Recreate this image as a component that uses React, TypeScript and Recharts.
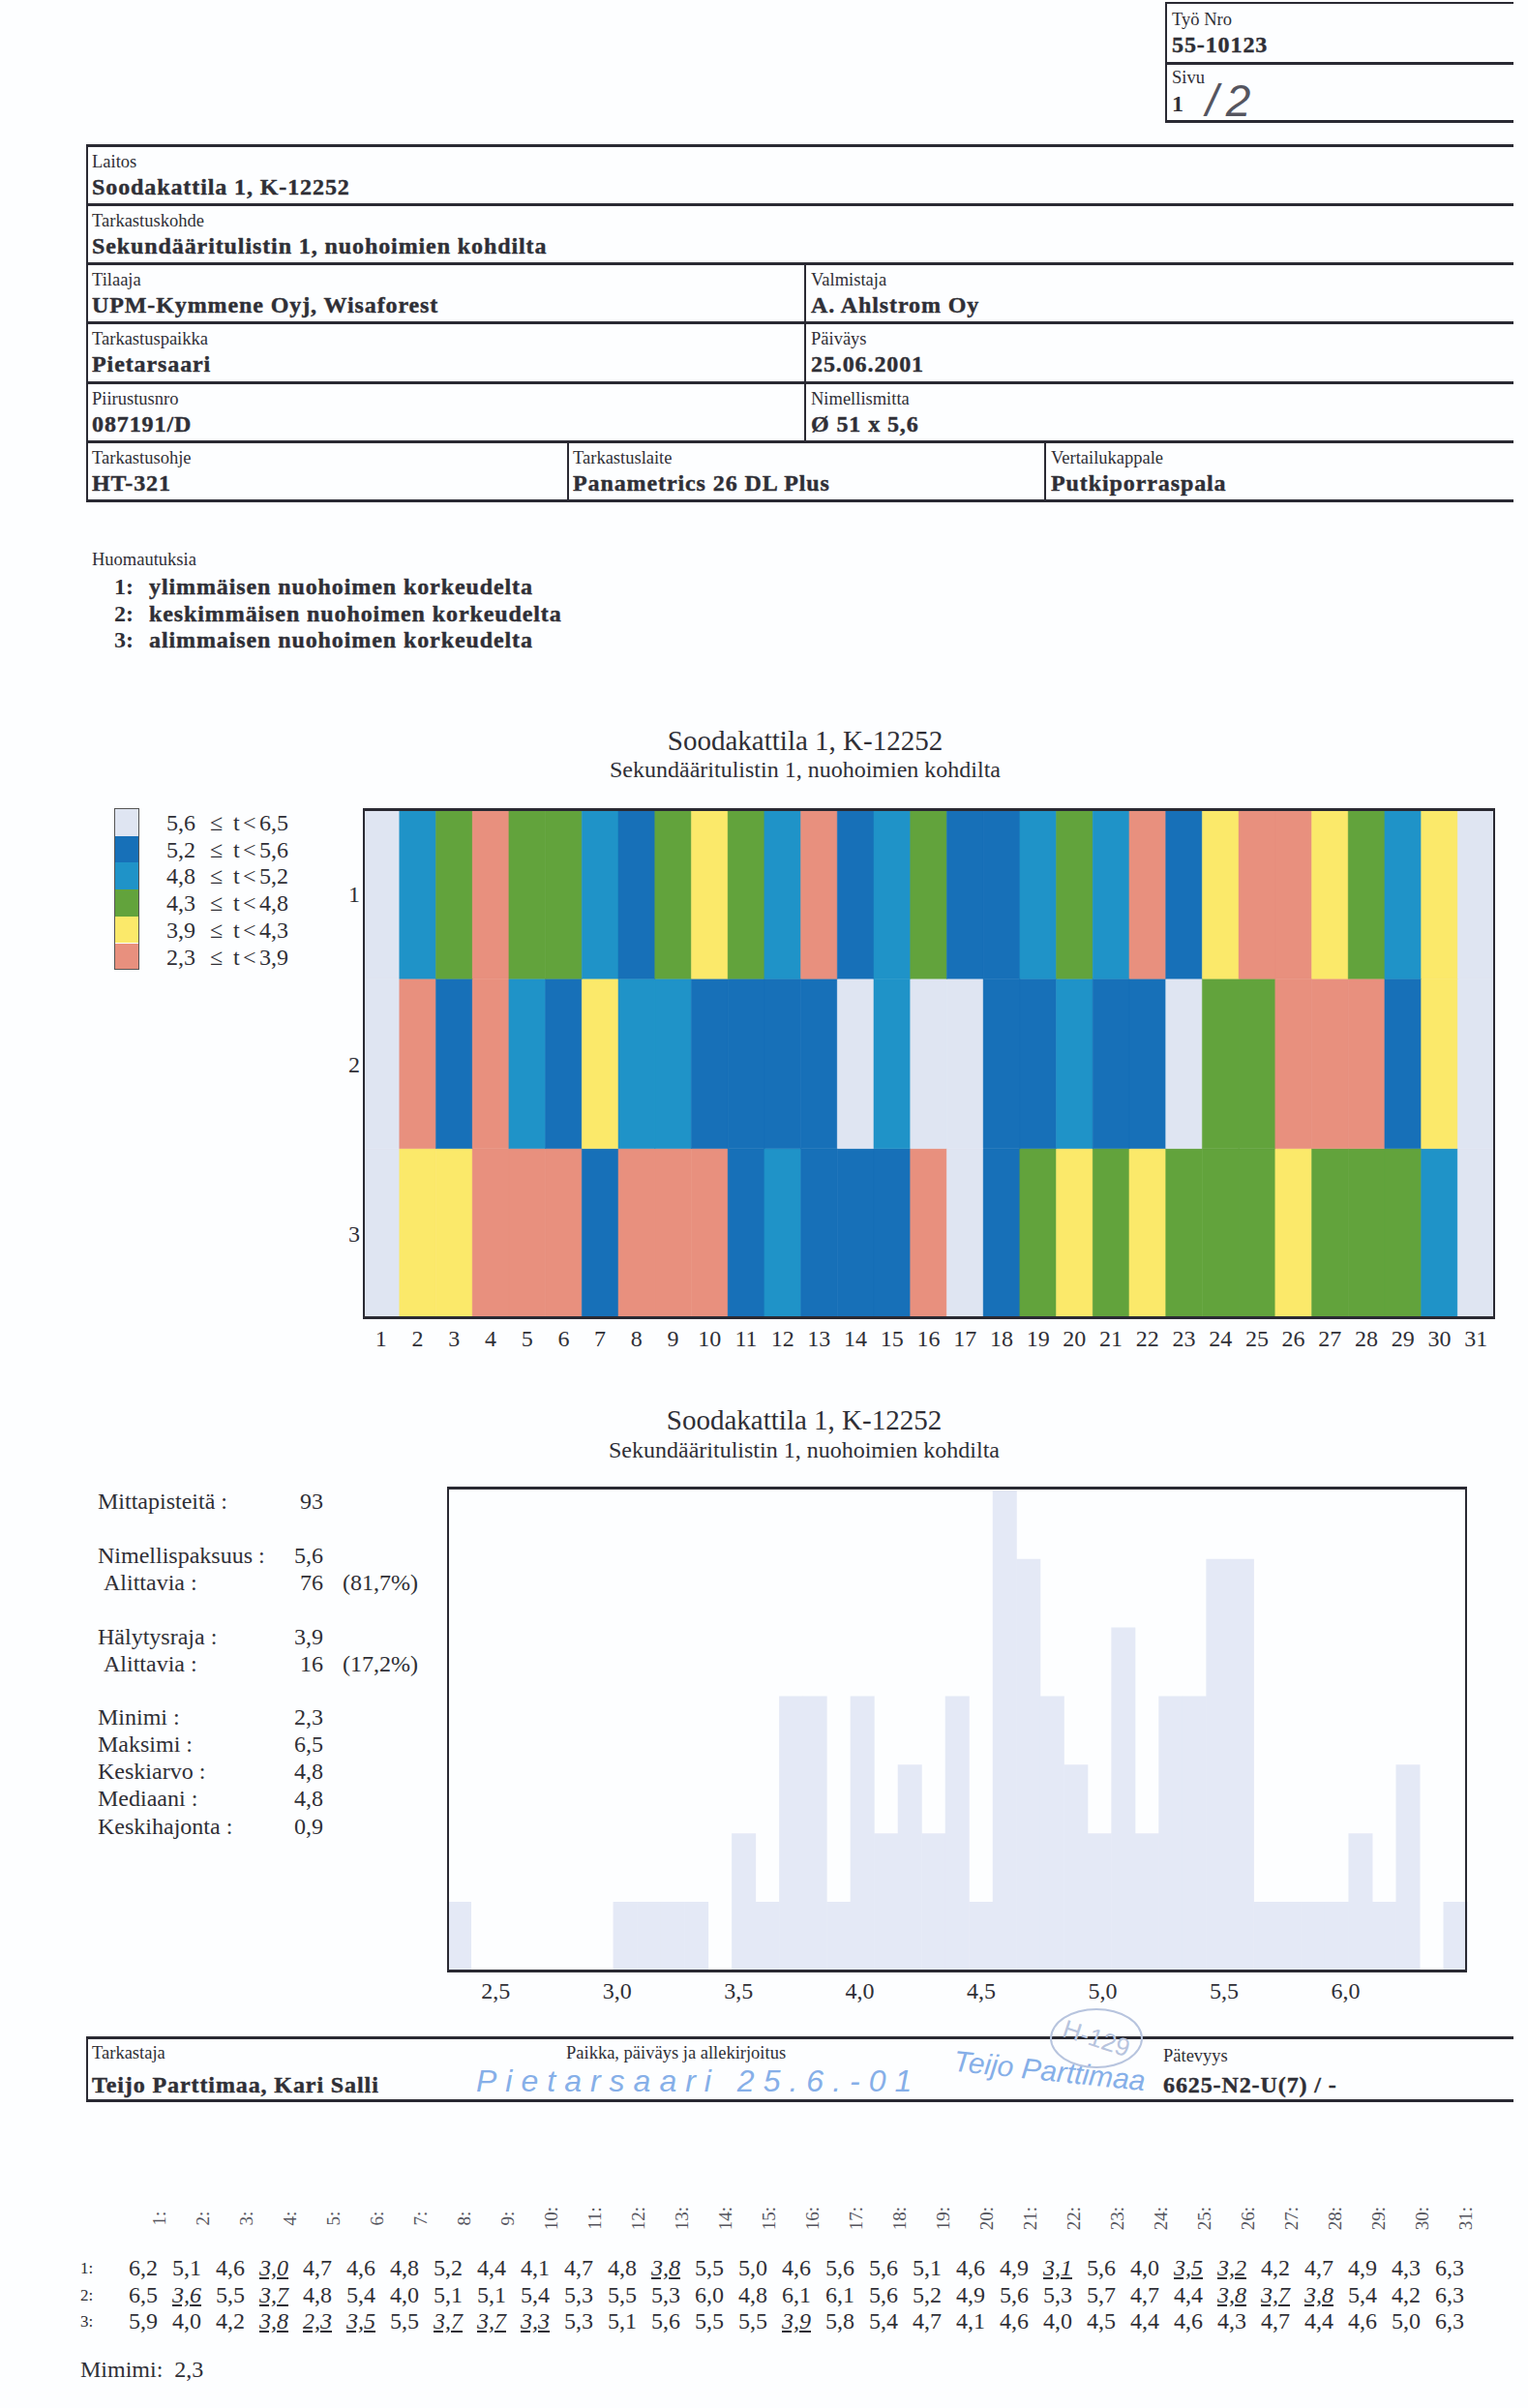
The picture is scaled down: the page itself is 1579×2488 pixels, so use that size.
import React from "react";
import { Bar, BarChart, Cell, LineChart, XAxis, YAxis } from "recharts";

const columns = Array.from({ length: 31 }, (_, i) => String(i + 1));
const row1 = [6.2, 5.1, 4.6, 3.0, 4.7, 4.6, 4.8, 5.2, 4.4, 4.1, 4.7, 4.8, 3.8, 5.5, 5.0, 4.6, 5.6, 5.6, 5.1, 4.6, 4.9, 3.1, 5.6, 4.0, 3.5, 3.2, 4.2, 4.7, 4.9, 4.3, 6.3];
const row2 = [6.5, 3.6, 5.5, 3.7, 4.8, 5.4, 4.0, 5.1, 5.1, 5.4, 5.3, 5.5, 5.3, 6.0, 4.8, 6.1, 6.1, 5.6, 5.2, 4.9, 5.6, 5.3, 5.7, 4.7, 4.4, 3.8, 3.7, 3.8, 5.4, 4.2, 6.3];
const row3 = [5.9, 4.0, 4.2, 3.8, 2.3, 3.5, 5.5, 3.7, 3.7, 3.3, 5.3, 5.1, 5.6, 5.5, 5.5, 3.9, 5.8, 5.4, 4.7, 4.1, 4.6, 4.0, 4.5, 4.4, 4.6, 4.3, 4.7, 4.4, 4.6, 5.0, 6.3];
const rows = [row1, row2, row3];

const bandLabels = ["5,6", "5,2", "4,8", "4,3", "3,9", "2,3"];
const bandTops = ["6,5", "5,6", "5,2", "4,8", "4,3", "3,9"];
const bandColors = ["#dfe5f2", "#1770b8", "#1f93c8", "#62a33c", "#fbe96a", "#e8907e"];

const histBins = ["2.3", "2.4", "2.5", "2.6", "2.7", "2.8", "2.9", "3.0", "3.1", "3.2", "3.3", "3.4", "3.5", "3.6", "3.7", "3.8", "3.9", "4.0", "4.1", "4.2", "4.3", "4.4", "4.5", "4.6", "4.7", "4.8", "4.9", "5.0", "5.1", "5.2", "5.3", "5.4", "5.5", "5.6", "5.7", "5.8", "5.9", "6.0", "6.1", "6.2", "6.3", "6.4", "6.5"];
const histCounts = [1, 0, 0, 0, 0, 0, 0, 1, 1, 1, 1, 0, 2, 1, 4, 4, 1, 4, 2, 3, 2, 4, 1, 7, 6, 4, 3, 2, 5, 2, 4, 4, 6, 6, 1, 1, 1, 1, 2, 1, 3, 0, 1];
const histTicks = [2.5, 3.0, 3.5, 4.0, 4.5, 5.0, 5.5, 6.0];

const stats = [
  ["Mittapisteitä :", "93", ""],
  ["Nimellispaksuus :", "5,6", ""],
  [" Alittavia :", "76", "(81,7%)"],
  ["Hälytysraja :", "3,9", ""],
  [" Alittavia :", "16", "(17,2%)"],
  ["Minimi :", "2,3", ""],
  ["Maksimi :", "6,5", ""],
  ["Keskiarvo :", "4,8", ""],
  ["Mediaani :", "4,8", ""],
  ["Keskihajonta :", "0,9", ""],
];
const statY = [1551, 1607, 1635, 1691, 1719, 1774, 1802, 1830, 1858, 1887];

const heatData = columns.map((col) => ({ col, top: 1, middle: 1, bottom: 1 }));
const histData = histBins.map((bin, i) => ({ bin, count: histCounts[i] }));
const histTickData = histTicks.map((v) => ({ v }));

const serif = "'Liberation Serif', serif";
const ink = "#2f2f36";

function bandColor(v: number) {
  if (v <= 3.9) return bandColors[5];
  if (v <= 4.3) return bandColors[4];
  if (v < 4.8) return bandColors[3];
  if (v < 5.2) return bandColors[2];
  if (v <= 5.6) return bandColors[1];
  return bandColors[0];
}

function T({ x, y, s = 24, b, c = ink, a = "left", style, children }: any) {
  const shift = a === "center" ? "-50%" : a === "right" ? "-100%" : "0";
  return (
    <div
      style={{
        position: "absolute",
        left: x,
        top: y,
        transform: `translate(${shift}, -50%)`,
        fontFamily: serif,
        fontSize: s,
        fontWeight: b ? 700 : 400,
        color: c,
        lineHeight: 1,
        whiteSpace: "pre",
        ...style,
      }}
    >
      {children}
    </div>
  );
}

const heavy = { letterSpacing: 0.9, WebkitTextStroke: "0.4px #2f2f36" };

function Line({ x, y, w, h }: any) {
  return <div style={{ position: "absolute", left: x, top: y, width: w, height: h, background: "#2a2a33" }} />;
}

function Field({ x, y, label, value }: any) {
  return (
    <>
      <T x={x} y={y + 17} s={18.5}>{label}</T>
      <T x={x} y={y + 43} s={24} b style={heavy}>{value}</T>
    </>
  );
}

function Frame({ x, y, w, h }: any) {
  return (
    <div
      style={{
        position: "absolute",
        left: x,
        top: y,
        width: w,
        height: h,
        borderTop: "3px solid #2a2a33",
        borderBottom: "3px solid #2a2a33",
        borderLeft: "2px solid #2a2a33",
        borderRight: "2px solid #2a2a33",
        boxSizing: "border-box",
        pointerEvents: "none",
      }}
    />
  );
}

const tickStyle = { fontSize: 24, fill: ink, fontFamily: serif };
const pen = "'Liberation Sans', sans-serif";

export default function App() {
  return (
    <div style={{ position: "absolute", left: 0, top: 0, width: 1579, height: 2488, background: "#fdfeff", overflow: "hidden" }}>
      {/* top right box */}
      <Line x={1204} y={2} w={360} h={2} />
      <Line x={1204} y={64} w={360} h={3} />
      <Line x={1204} y={124} w={360} h={3} />
      <Line x={1204} y={2} w={2} h={125} />
      <T x={1211} y={20} s={18.5}>Työ Nro</T>
      <T x={1211} y={46} s={24} b style={heavy}>55-10123</T>
      <T x={1211} y={80} s={18.5}>Sivu</T>
      <T x={1211} y={107} s={24} b>1</T>
      <T x={1246} y={104} s={46} c="#55555f" style={{ fontFamily: pen, fontStyle: "italic", letterSpacing: 8 }}>/2</T>

      {/* header grid */}
      {[150, 211, 272, 333, 395, 456, 517].map((y) => (
        <Line key={y} x={89} y={y - 1} w={1475} h={3} />
      ))}
      <Line x={89} y={150} w={2} h={368} />
      <Line x={831} y={272} w={2} h={184} />
      <Line x={586} y={456} w={2} h={61} />
      <Line x={1079} y={456} w={2} h={61} />
      <Field x={95} y={150} label="Laitos" value="Soodakattila 1, K-12252" />
      <Field x={95} y={211} label="Tarkastuskohde" value="Sekundääritulistin 1, nuohoimien kohdilta" />
      <Field x={95} y={272} label="Tilaaja" value="UPM-Kymmene Oyj, Wisaforest" />
      <Field x={838} y={272} label="Valmistaja" value="A. Ahlstrom Oy" />
      <Field x={95} y={333} label="Tarkastuspaikka" value="Pietarsaari" />
      <Field x={838} y={333} label="Päiväys" value="25.06.2001" />
      <Field x={95} y={395} label="Piirustusnro" value="087191/D" />
      <Field x={838} y={395} label="Nimellismitta" value="Ø 51 x 5,6" />
      <Field x={95} y={456} label="Tarkastusohje" value="HT-321" />
      <Field x={592} y={456} label="Tarkastuslaite" value="Panametrics 26 DL Plus" />
      <Field x={1086} y={456} label="Vertailukappale" value="Putkiporraspala" />

      <T x={95} y={578} s={18.5}>Huomautuksia</T>
      {["1:", "2:", "3:"].map((n, i) => (
        <T key={n} x={118} y={606 + i * 27.5} s={24} b>{n}</T>
      ))}
      {["ylimmäisen nuohoimen korkeudelta", "keskimmäisen nuohoimen korkeudelta", "alimmaisen nuohoimen korkeudelta"].map((t, i) => (
        <T key={t} x={154} y={606 + i * 27.5} s={24} b style={heavy}>{t}</T>
      ))}

      {/* heat map */}
      <T x={832} y={765} s={29} a="center">Soodakattila 1, K-12252</T>
      <T x={832} y={795} s={24} a="center">Sekundääritulistin 1, nuohoimien kohdilta</T>
      {bandColors.map((c, i) => (
        <div key={c} style={{ position: "absolute", left: 118, top: 836 + i * 27.7, width: 26, height: 27.7, background: c }} />
      ))}
      <div style={{ position: "absolute", left: 118, top: 835, width: 26, height: 167, border: "1px solid #555", boxSizing: "border-box" }} />
      {bandLabels.map((l, i) => (
        <React.Fragment key={l}>
          <T x={172} y={850 + i * 27.7} s={24}>{l}</T>
          <T x={217} y={850 + i * 27.7} s={24}>≤</T>
          <T x={241} y={850 + i * 27.7} s={24}>t</T>
          <T x={251} y={850 + i * 27.7} s={24}>{"<"}</T>
          <T x={268} y={850 + i * 27.7} s={24}>{bandTops[i]}</T>
        </React.Fragment>
      ))}
      <div style={{ position: "absolute", left: 300, top: 820 }}>
        <BarChart width={1270} height={590} data={heatData} barCategoryGap={0} margin={{ top: 16, right: 26, bottom: 0, left: 45 }}>
          <XAxis dataKey="col" interval={0} tick={tickStyle} tickLine={false} axisLine={false} height={48} tickMargin={6} />
          <YAxis
            type="number"
            domain={[0, 3]}
            ticks={[0.5, 1.5, 2.5]}
            tickFormatter={(v) => String(3.5 - v)}
            tick={tickStyle}
            tickLine={false}
            axisLine={false}
            width={30}
            tickSize={0}
            tickMargin={3}
          />
          {[
            { key: "bottom", values: rows[2] },
            { key: "middle", values: rows[1] },
            { key: "top", values: rows[0] },
          ].map((r) => (
            <Bar key={r.key} dataKey={r.key} stackId="rows" isAnimationActive={false}>
              {r.values.map((v, i) => (
                <Cell key={i} fill={bandColor(v)} stroke={bandColor(v)} strokeWidth={0.4} />
              ))}
            </Bar>
          ))}
        </BarChart>
      </div>
      <Frame x={375} y={835} w={1170} h={528} />

      {/* histogram */}
      <T x={831} y={1467} s={29} a="center">Soodakattila 1, K-12252</T>
      <T x={831} y={1498} s={24} a="center">Sekundääritulistin 1, nuohoimien kohdilta</T>
      {stats.map(([label, value, pct], i) => (
        <React.Fragment key={i}>
          <T x={label.startsWith(" ") ? 107 : 101} y={statY[i]} s={24}>{label.trim()}</T>
          <T x={334} y={statY[i]} s={24} a="right">{value}</T>
          {pct && <T x={354} y={statY[i]} s={24}>{pct}</T>}
        </React.Fragment>
      ))}
      <div style={{ position: "absolute", left: 440, top: 1520 }}>
        <BarChart width={1100} height={570} data={histData} barCategoryGap={0} margin={{ top: 17, right: 24, bottom: 54, left: 22 }}>
          <XAxis dataKey="bin" hide />
          <YAxis type="number" domain={[0, 7.04]} hide />
          <Bar dataKey="count" fill="#e4e9f6" isAnimationActive={false} />
        </BarChart>
      </div>
      {/* the labels run on their own 2.3-6.5 scale, a little wider than the 43 bins */}
      <div style={{ position: "absolute", left: 440, top: 1520 }}>
        <LineChart width={1100} height={570} data={histTickData} margin={{ top: 17, right: 24, bottom: 0, left: 22 }}>
          <XAxis
            dataKey="v"
            type="number"
            domain={[2.3, 6.5]}
            ticks={histTicks}
            tickFormatter={(v) => v.toFixed(1).replace(".", ",")}
            tick={tickStyle}
            tickLine={false}
            axisLine={false}
            height={54}
            tickMargin={6}
          />
        </LineChart>
      </div>
      <Frame x={462} y={1536} w={1054} h={502} />

      {/* footer */}
      <Line x={89} y={2104} w={1475} h={3} />
      <Line x={89} y={2169} w={1475} h={3} />
      <Line x={89} y={2104} w={2} h={68} />
      <T x={95} y={2121} s={18.5}>Tarkastaja</T>
      <T x={95} y={2154} s={24} b style={heavy}>Teijo Parttimaa, Kari Salli</T>
      <T x={585} y={2121} s={18.5}>Paikka, päiväys ja allekirjoitus</T>
      <T x={1202} y={2124} s={18.5}>Pätevyys</T>
      <T x={1202} y={2154} s={24} b style={heavy}>6625-N2-U(7) / -</T>
      <T x={492} y={2150} s={32} c="#86afe8" style={{ fontFamily: pen, fontStyle: "italic", letterSpacing: 9 }}>Pietarsaari 25.6.-01</T>
      <T x={985} y={2140} s={30} c="#86afe8" style={{ fontFamily: pen, fontStyle: "italic", transform: "translate(0,-50%) rotate(6deg)" }}>Teijo Parttimaa</T>
      <div style={{ position: "absolute", left: 1085, top: 2075, width: 96, height: 62, borderRadius: "50%", border: "2px solid #b7c4de", boxSizing: "border-box" }} />
      <T x={1133} y={2106} s={26} a="center" c="#b7c4de" style={{ fontFamily: pen, transform: "translate(-50%,-50%) rotate(18deg)" }}>H-129</T>

      {/* readings table */}
      {columns.map((c, i) => (
        <T key={c} x={164 + i * 45} y={2292} s={19} c="#55555e" style={{ transform: "translate(-50%,-50%) rotate(-90deg)" }}>{c}:</T>
      ))}
      {rows.map((row, r) => (
        <React.Fragment key={r}>
          <T x={83} y={2343 + r * 27.5} s={17}>{r + 1}:</T>
          {row.map((v, i) => {
            const low = v <= 3.9;
            return (
              <T
                key={i}
                x={148 + i * 45}
                y={2343 + r * 27.5}
                s={24}
                a="center"
                style={low ? { fontStyle: "italic", textDecoration: "underline" } : undefined}
              >
                {v.toFixed(1).replace(".", ",")}
              </T>
            );
          })}
        </React.Fragment>
      ))}
      <T x={83} y={2448} s={24}>Mimimi:  2,3</T>
    </div>
  );
}
